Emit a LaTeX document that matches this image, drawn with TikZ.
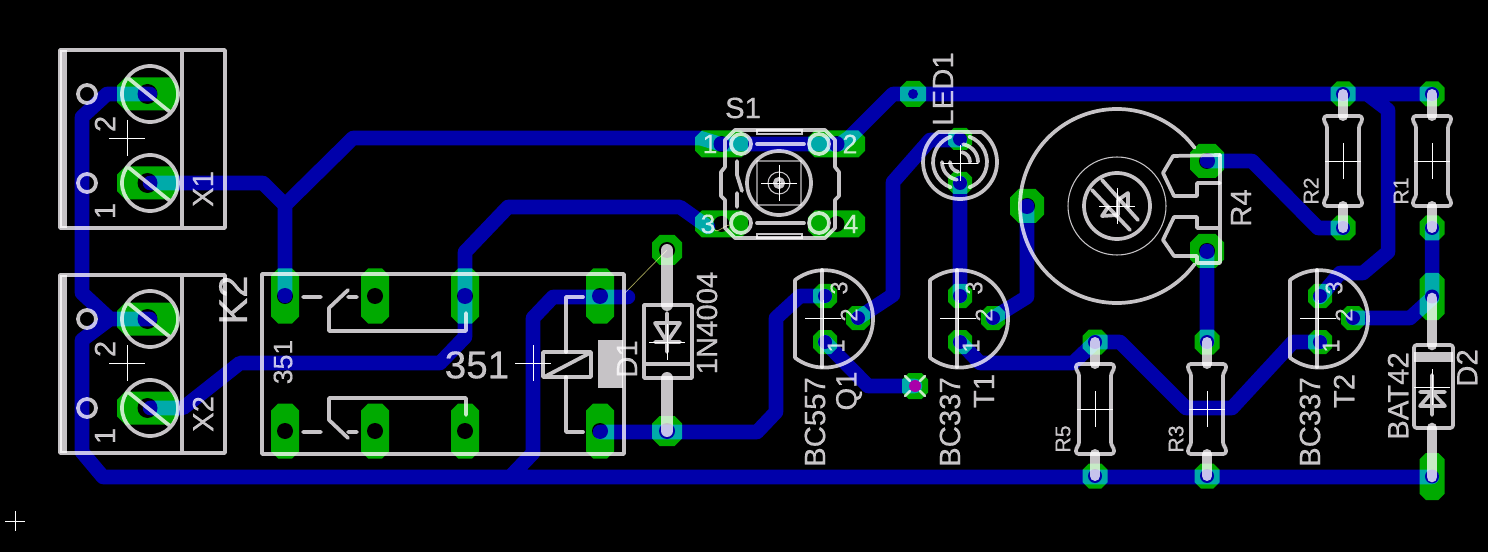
\documentclass[tikz,border=0pt]{standalone}
\usepackage{fontspec}
\setmainfont[FakeBold=.4]{Liberation Sans}
\usetikzlibrary{positioning}
\definecolor{padgreen}{RGB}{0,170,0}
\definecolor{traceblue}{RGB}{0,0,170}
\definecolor{silkgrey}{RGB}{198,195,198}
\definecolor{airyellow}{RGB}{170,170,90}
\definecolor{viamagenta}{RGB}{170,0,170}
\tikzset{
    trace/.style = {draw = traceblue, line width = 10.9pt, line join = round, line cap = round},
    silk/.style = {draw = silkgrey, line width = 2.8pt, line cap = round, line join = round},
    silkthin/.style = {draw = silkgrey, line width = .8pt},
    lead/.style = {draw = silkgrey, line width = 7.5pt, line cap = round},
    origin/.style = {draw = white, line width = .7pt},
    lbl/.style = {text = silkgrey, inner sep = 0pt, font = \fontsize{22}{22}\selectfont},
    lblsmall/.style = {lbl, font = \fontsize{16}{16}\selectfont},
    lblpin/.style = {lbl, font = \fontsize{18}{18}\selectfont},
    lblsw/.style = {lbl, font = \fontsize{20}{20}\selectfont}
}
\newcommand{\padoct}[5]{%
    \pgfmathsetmacro{\padc}{.5*min(#3,#4)}
    \fill[padgreen, shift = {(#1,#2)}] (-#3+\padc,-#4) -- (#3-\padc,-#4) -- (#3,-#4+\padc) -- (#3,#4-\padc)
        -- (#3-\padc,#4) -- (-#3+\padc,#4) -- (-#3,#4-\padc) -- (-#3,-#4+\padc) -- cycle;
    \fill[black] (#1,#2) circle[radius = #5];
}
\newcommand{\origincross}[3]{\draw[origin] (#1-#3,#2) -- (#1+#3,#2) (#1,#2-#3) -- (#1,#2+#3);}
\newcommand{\resbody}[2]{%
    \draw[lead] (#1,#2-67) -- (#1,#2-45) (#1,#2+67) -- (#1,#2+45);
    \draw[silk, rounded corners = 2pt, shift = {(#1,#2)}] (-16,-36) -- (-19,-39) -- (-19,-45) -- (19,-45) -- (19,-39) -- (16,-36)
        -- (16,36) -- (19,39) -- (19,45) -- (-19,45) -- (-19,39) -- (-16,36) -- cycle;
    \origincross{#1}{#2}{18}
}
\begin{document}
\begin{tikzpicture}[x = .75pt, y = -.75pt]
    \fill[black] (0,0) rectangle (1488,552);
    \useasboundingbox (0,0) rectangle (1488,552);

    % pads
    \foreach \tby in {0,225} {
        \padoct{147.5}{94+\tby}{30.5}{16.5}{10}
        \padoct{147.5}{183+\tby}{30.5}{16.5}{10}
    }
    \foreach \relx in {285,375,465,600} {
        \padoct{\relx}{296}{14}{27.5}{8}
        \padoct{\relx}{431}{14}{27.5}{8}
    }
    \padoct{721.5}{144}{26.5}{13.5}{8}
    \padoct{836.5}{144}{28.5}{13.5}{8}
    \padoct{721.5}{224}{26.5}{13.5}{8}
    \padoct{836.5}{224}{28.5}{13.5}{8}
    \padoct{913}{94}{13}{13}{5}
    \padoct{960}{139}{12}{11}{7}
    \padoct{960}{183}{12}{11}{7}
    \foreach \trx in {0,135,495} {
        \padoct{825+\trx}{296}{12}{12}{7}
        \padoct{858+\trx}{318}{12}{12}{7}
        \padoct{825+\trx}{342}{12}{12}{7}
    }
    \padoct{667}{250}{15}{15}{8}
    \padoct{667}{431}{15}{15}{8}
    \padoct{1027}{206}{17}{17}{8}
    \padoct{1207}{161}{17}{17}{8}
    \padoct{1207}{251}{17}{17}{8}
    \foreach \resx/\resy in {1343/94,1343/228,1432/94,1432/228,1095/342,1095/476,1207/342,1207/476} {
        \padoct{\resx}{\resy}{12.5}{12.5}{7}
    }
    \padoct{1432}{296.5}{12.5}{23.5}{7}
    \padoct{1432}{476.5}{12.5}{23.5}{7}
    \padoct{915}{386}{13}{13}{5}

    \begin{scope}[blend mode = screen]
    % tracks
    \draw[trace]
        (150,94) -- (107,94) -- (82,117) -- (82,293) -- (110,319) -- (150,319)
        (110,319) -- (82,340) -- (82,452) -- (103,477) -- (1432,477)
        (150,183) -- (263,183) -- (285,205) -- (353,138) -- (700,138) -- (720,144) -- (840,144) -- (850,137) -- (893,94) -- (1432,94)
        (285,205) -- (285,296)
        (150,408) -- (183,408) -- (240,363) -- (440,363) -- (465,337) -- (465,252) -- (508,207) -- (680,207) -- (708,227)
        (628,297) -- (553,297) -- (533,318) -- (533,453) -- (510,477)
        (600,432) -- (757,432) -- (776,412) -- (776,318) -- (800,296) -- (825,296)
        (858,318) -- (893,295) -- (893,182) -- (930,140) -- (960,140)
        (960,183) -- (960,296)
        (993,318) -- (1027,297) -- (1027,206)
        (960,342) -- (980,363) -- (1073,363) -- (1095,342) -- (1120,342) -- (1186,408) -- (1232,408) -- (1293,342) -- (1320,342)
        (825,342) -- (868,386) -- (915,386)
        (1207,161) -- (1252,161) -- (1318,228) -- (1343,228)
        (1207,251) -- (1207,342)
        (1367,94) -- (1388,110) -- (1388,252) -- (1363,273) -- (1340,273) -- (1320,297)
        (1353,318) -- (1410,318) -- (1432,298)
        (1432,228) -- (1432,298);

    % terminal blocks
    \foreach \tby/\tbname in {0/X1,225/X2} {
        \begin{scope}[yshift = {-\tby*.75pt}]
            \draw[silk] (60,50) rectangle (225,228) (182,50) -- (182,228);
            \fill[silkgrey] (60,50) rectangle (67,228);
            \foreach \tbp in {94,183} {
                \draw[silk] (150,\tbp) circle[radius = 28] (128,\tbp-16) -- (170,\tbp+18);
                \draw[silk] (87,\tbp) circle[radius = 9];
            }
            \origincross{127}{138}{18}
            \node[lbl, rotate = 90] (pintwo\tbname) at (105,124) {2};
            \node[lbl, rotate = 90] (pinone\tbname) at (105,211) {1};
            \node[lbl, rotate = 90] (name\tbname) at (203,189) {\tbname};
        \end{scope}
    }
    \node[lbl, rotate = 90, font = \fontsize{30}{30}\selectfont] (nameK) at (233,300) {K2};

    % relay
    \draw[silk] (262,274) rectangle (624,454);
    \draw[silk] (303,297) -- (321,297) (348,297) -- (357,297) (348,290) -- (329,308) -- (329,331) -- (466,331) -- (466,313);
    \draw[silk] (303,432) -- (321,432) (348,432) -- (357,432) (348,438) -- (329,420) -- (329,398) -- (466,398) -- (466,415);
    \draw[silk] (543,352) rectangle (591,377) (546,376) -- (588,354);
    \draw[silk] (583,297) -- (566,297) -- (566,352) (566,377) -- (566,432) -- (583,432);
    \node[lbl, rotate = 90] (nameD) at (627,359) {D1};
    \fill[silkgrey] (598,340) rectangle (623,388);
    \origincross{533}{363}{18}
    \node[lbl, font = \fontsize{29}{29}\selectfont] (valueK) at (477,365) {351};
    \node[lbl, rotate = 90, font = \fontsize{20}{20}\selectfont] (typeK) at (283,362) {351};
    \draw[airyellow, line width = .5pt] (625,293) -- (667,250);

    % diode D1
    \draw[lead, line width = 9pt] (667,250) -- (667,305) (667,378) -- (667,431);
    \draw[silk] (644,305) rectangle (692,378) (644,364) -- (692,364);
    \draw[silk] (655,323) -- (680,323) -- (667,342) -- cycle (655,342) -- (680,342) (667,313) -- (667,352);
    \origincross{667}{342}{18}
    \node[lbl, rotate = 90] (valueDa) at (707,323) {1N4004};

    % switch
    \draw[silk] (735,130) -- (825,130) -- (835,140) -- (835,167) -- (839,172) -- (839,196) -- (835,200) -- (835,228) -- (825,238)
        -- (735,238) -- (725,228) -- (725,200) -- (721,196) -- (721,172) -- (725,167) -- (725,140) -- cycle;
    \draw[silkthin] (757,130) rectangle (802,134) (757,234) rectangle (802,238);
    \foreach \swx/\swy in {741/144,819/144,741/223,819/223} {
        \draw[silk] (\swx,\swy) circle[radius = 10];
    }
    \draw[silk] (757,144) -- (804,144) (757,223) -- (804,223);
    \draw[silk] (737,161) -- (737,175) -- (742,191) (737,193) -- (737,207);
    \draw[silk] (779,183) circle[radius = 32];
    \draw[silkthin] (757,161) rectangle (801,205) (779,183) circle[radius = 11];
    \draw[silk, line width = 3pt] (779,183) circle[radius = 4];
    \origincross{779}{183}{18}
    \node[lbl] (nameS) at (743,108) {S1};
    \node[lblsw] (swone) at (710,144) {1};
    \node[lblsw] (swtwo) at (850,144) {2};
    \node[lblsw] (swthree) at (708,224) {3};
    \node[lblsw] (swfour) at (851,224) {4};
    \draw[airyellow, line width = .5pt] (714,229) to[out = -60, in = 180] (730,225);

    % led
    \draw[silk] ([shift = (-54:37)]960,162) arc[start angle = -54, end angle = 234, radius = 37] -- cycle;
    \draw[silk] ([shift = (-70:27)]960,162) arc[start angle = -70, end angle = 70, radius = 27]
        ([shift = (110:27)]960,162) arc[start angle = 110, end angle = 250, radius = 27];
    \draw[silk] ([shift = (-80:18)]960,162) arc[start angle = -80, end angle = 0, radius = 18]
        ([shift = (-80:10)]960,162) arc[start angle = -80, end angle = 0, radius = 10]
        ([shift = (100:18)]960,162) arc[start angle = 100, end angle = 180, radius = 18]
        ([shift = (100:10)]960,162) arc[start angle = 100, end angle = 180, radius = 10];
    \origincross{960}{163}{18}
    \node[lbl, rotate = 90] (nameL) at (943,89) {LED1};

    % transistors
    \foreach \trx/\trname/\trval in {0/Q1/BC557,135/T1/BC337,495/T2/BC337} {
        \begin{scope}[xshift = {\trx*.75pt}]
            \draw[silk] (795,280) arc[start angle = -127, end angle = 127, radius = 48.7] -- cycle;
            \draw[silk] (822,270) -- (822,367);
            \origincross{823}{318}{18}
            \node[lblpin, rotate = 90] (pinc\trname) at (839,288) {3};
            \node[lblpin, rotate = 90] (pinb\trname) at (849,315) {2};
            \node[lblpin, rotate = 90] (pine\trname) at (836,346) {1};
            \node[lbl, rotate = 90] (value\trname) at (815,422) {\trval};
            \node[lbl, rotate = 90] (name\trname) at (849,391) {\trname};
        \end{scope}
    }
    \draw[silk, line width = 2pt] (905,376) -- (910,381) (925,376) -- (920,381) (905,396) -- (910,391) (925,396) -- (920,391);

    % trimmer
    \draw[silk] ([shift = (37:97)]1117,206) arc[start angle = 37, end angle = 323, radius = 97];
    \draw[silkthin] (1117,206) circle[radius = 49];
    \draw[silk] (1117,206) circle[radius = 33];
    \draw[silk] (1092,190) -- (1130,230) (1102,180) -- (1138,220);
    \draw[silk] (1108,207) -- (1102,216) -- (1118,215) -- (1118,200) -- (1128,193) -- (1128,207);
    \draw[silk] (1220,155) -- (1173,156) -- (1163,173) -- (1174,196) -- (1197,196) -- (1197,183) -- (1220,183);
    \draw[silk] (1220,155) -- (1220,263) -- (1197,263) -- (1197,256) -- (1174,256) -- (1163,240) -- (1174,217) -- (1197,217) -- (1197,228) -- (1220,228);
    \origincross{1117}{206}{18}
    \node[lbl, rotate = 90] (nameR) at (1241,208) {R4};

    % resistors
    \resbody{1343}{161}
    \resbody{1432}{161}
    \resbody{1095}{409}
    \resbody{1207}{409}
    \node[lblsmall, rotate = 90] (nameRb) at (1311,191) {R2};
    \node[lblsmall, rotate = 90] (nameRa) at (1401,191) {R1};
    \node[lblsmall, rotate = 90] (nameRe) at (1063,439) {R5};
    \node[lblsmall, rotate = 90] (nameRc) at (1176,439) {R3};

    % diode D2
    \draw[lead, line width = 8pt] (1432,298) -- (1432,345) (1432,428) -- (1432,477);
    \draw[silk, rounded corners = 2pt] (1414,345) rectangle (1453,428);
    \fill[silkgrey] (1414,352) rectangle (1453,362);
    \draw[silk] (1420,406) -- (1445,406) -- (1432,392) -- cycle (1420,392) -- (1445,392) (1432,375) -- (1432,415);
    \origincross{1432}{387}{18}
    \node[lbl, rotate = 90] (valueDb) at (1398,396) {BAT42};
    \node[lbl, rotate = 90] (nameDb) at (1467,368) {D2};
    \end{scope}

    \fill[viamagenta] (915,386) circle[radius = 6];
    \origincross{15}{521}{10}
\end{tikzpicture}
\end{document}
